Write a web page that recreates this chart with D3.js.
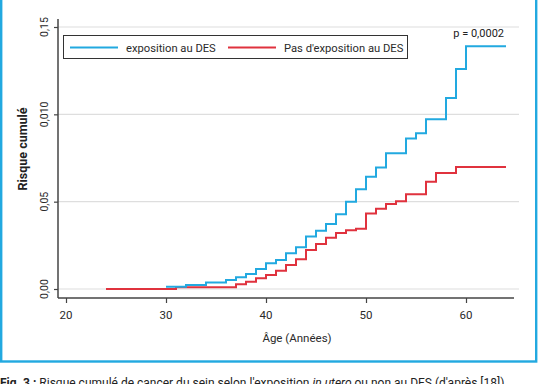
<!DOCTYPE html>
<html>
<head>
<meta charset="utf-8">
<script src="https://cdn.jsdelivr.net/npm/d3@7"></script>
<style>
  body { margin: 0; background: #fff; }
  svg { display: block; font-family: Roboto, "DejaVu Sans", sans-serif; }
</style>
</head>
<body>
<div id="chart"></div>
<script>
// step points: [age, cumulative risk]
const exposedAges   = [30, 32, 34, 36, 37, 38, 39, 40, 41, 42, 43, 44, 45, 46, 47, 48, 49, 50, 51, 52, 54, 55, 56, 58, 59, 60];
const exposedRisk   = [0.0013, 0.0023, 0.0037, 0.0052, 0.0067, 0.0086, 0.0115, 0.0147, 0.0166, 0.0205, 0.0239, 0.0300, 0.0334, 0.0372, 0.0428, 0.0500, 0.0571, 0.0643, 0.0695, 0.0777, 0.0861, 0.0892, 0.0972, 0.1094, 0.1260, 0.1390];
const unexposedAges = [24, 31, 37, 38, 39, 40, 41, 42, 43, 44, 45, 46, 47, 48, 49, 50, 51, 52, 53, 54, 56, 57, 59];
const unexposedRisk = [0, 0.0010, 0.0027, 0.0042, 0.0061, 0.0080, 0.0105, 0.0137, 0.0170, 0.0223, 0.0257, 0.0294, 0.0320, 0.0336, 0.0345, 0.0432, 0.0459, 0.0487, 0.0502, 0.0543, 0.0614, 0.0664, 0.0699];
const lastAge = 64;

const xTicks = [20, 30, 40, 50, 60];
const yTicks = [0, 0.05, 0.10, 0.15];
const yTickLabels = ['0,00', '0,05', '0,010', '0,15'];

const width = 538;
const height = 384;
const blue = '#22a9e0';
const red = '#e0323e';

const svg = d3.select('#chart').append('svg')
  .attr('width', width)
  .attr('height', height);

// scales
const x = d3.scaleLinear().domain([20, 60]).range([66, 466]);
const y = d3.scaleLinear().domain([0, 0.15]).range([289, 27]);

// blue frame around the figure
svg.append('rect')
  .attr('x', 1.2).attr('y', -3)
  .attr('width', 535).attr('height', 364.5)
  .attr('fill', 'none')
  .attr('stroke', blue)
  .attr('stroke-width', 2.4);

// gridlines
svg.append('g')
  .selectAll('line')
  .data(yTicks)
  .join('line')
  .attr('x1', 58).attr('x2', 519)
  .attr('y1', d => y(d)).attr('y2', d => y(d))
  .attr('stroke', '#dedede')
  .attr('stroke-width', 1.2);

// axes
const yAxis = svg.append('g')
  .attr('transform', 'translate(58,0)')
  .call(d3.axisLeft(y).tickValues(yTicks).tickSize(4).tickFormat(''));
yAxis.select('.domain').attr('d', `M0,${19}V${298}`);

const xAxis = svg.append('g')
  .attr('transform', 'translate(0,298)')
  .call(d3.axisBottom(x).tickValues(xTicks).tickSize(5).tickFormat(''));
xAxis.select('.domain').attr('d', `M58,0H514`);

svg.selectAll('.domain').attr('stroke', '#444').attr('stroke-width', 1.5);
svg.selectAll('.tick line').attr('stroke', '#444').attr('stroke-width', 1.2);

// y tick labels (rotated)
svg.append('g')
  .selectAll('text')
  .data(yTicks)
  .join('text')
  .attr('transform', (d, i) => `translate(48,${y(d)}) rotate(-90)`)
  .attr('text-anchor', 'middle')
  .attr('font-size', 10.5)
  .attr('fill', '#2a2a2a')
  .text((d, i) => yTickLabels[i]);

// x tick labels
svg.append('g')
  .selectAll('text')
  .data(xTicks)
  .join('text')
  .attr('x', d => x(d))
  .attr('y', 319)
  .attr('text-anchor', 'middle')
  .attr('font-size', 11.5)
  .attr('fill', '#2a2a2a')
  .text(d => d);

// axis titles
svg.append('text')
  .attr('transform', 'translate(27,149) rotate(-90)')
  .attr('text-anchor', 'middle')
  .attr('font-size', 12.5)
  .attr('font-weight', 'bold')
  .attr('fill', '#222')
  .text('Risque cumulé');

svg.append('text')
  .attr('x', 297).attr('y', 342)
  .attr('text-anchor', 'middle')
  .attr('font-size', 11.5)
  .attr('fill', '#2a2a2a')
  .text('Âge (Années)');

// step curves
const line = d3.line()
  .x(d => x(d[0]))
  .y(d => y(d[1]))
  .curve(d3.curveStepAfter);

function series(ages, risk) {
  const pts = ages.map((a, i) => [a, risk[i]]);
  pts.push([lastAge, risk[risk.length - 1]]);
  return pts;
}

svg.append('path')
  .datum(series(unexposedAges, unexposedRisk))
  .attr('d', line)
  .attr('fill', 'none')
  .attr('stroke', red)
  .attr('stroke-width', 2);

svg.append('path')
  .datum(series(exposedAges, exposedRisk))
  .attr('d', line)
  .attr('fill', 'none')
  .attr('stroke', blue)
  .attr('stroke-width', 2);

// legend
const legend = svg.append('g');
legend.append('rect')
  .attr('x', 63.5).attr('y', 35.5)
  .attr('width', 344).attr('height', 23)
  .attr('fill', '#fff')
  .attr('stroke', '#333')
  .attr('stroke-width', 1);
const legendItems = [
  { label: 'exposition au DES', color: blue, x0: 70 },
  { label: "Pas d'exposition au DES", color: red, x0: 228 }
];
legendItems.forEach(it => {
  legend.append('line')
    .attr('x1', it.x0).attr('x2', it.x0 + 48)
    .attr('y1', 47.5).attr('y2', 47.5)
    .attr('stroke', it.color).attr('stroke-width', 2);
  legend.append('text')
    .attr('x', it.x0 + 56).attr('y', 51.5)
    .attr('font-size', 11.2)
    .attr('fill', '#2a2a2a')
    .text(it.label);
});

// p value
svg.append('text')
  .attr('x', 504).attr('y', 37)
  .attr('text-anchor', 'end')
  .attr('font-size', 11)
  .attr('fill', '#222')
  .text('p = 0,0002');

// caption (cut at the bottom edge, as in the source figure)
const caption = svg.append('text')
  .attr('x', 0).attr('y', 387)
  .attr('font-size', 12)
  .attr('fill', '#222');
caption.append('tspan').attr('font-weight', 'bold').text('Fig. 3 : ');
caption.append('tspan').text("Risque cumulé de cancer du sein selon l'exposition ");
caption.append('tspan').attr('font-style', 'italic').text('in utero');
caption.append('tspan').text(" ou non au DES (d'après [18])");
</script>
</body>
</html>
